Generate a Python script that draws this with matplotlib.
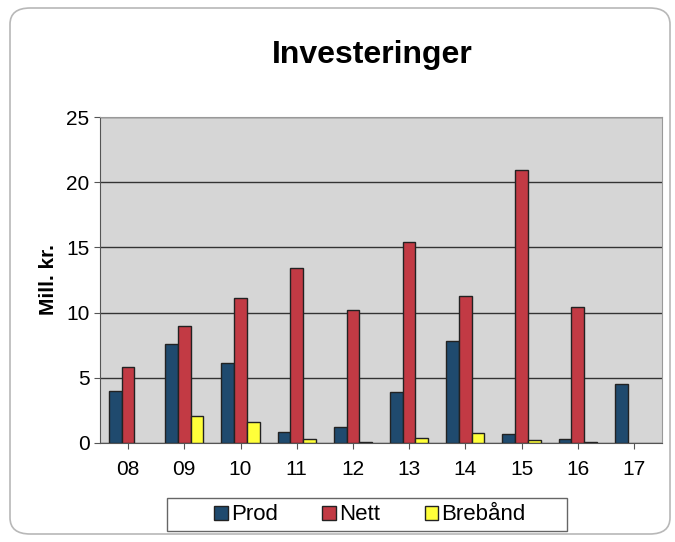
import numpy as np
import matplotlib.pyplot as plt
from matplotlib.patches import FancyBboxPatch, Rectangle

years = ["08", "09", "10", "11", "12", "13", "14", "15", "16", "17"]
prod = [4.0, 7.6, 6.1, 0.85, 1.2, 3.9, 7.85, 0.7, 0.3, 4.5]
nett = [5.8, 9.0, 11.1, 13.4, 10.2, 15.4, 11.3, 20.9, 10.4, 0]
brebaand = [0, 2.05, 1.6, 0.3, 0.05, 0.35, 0.75, 0.25, 0.08, 0]

plt.rcParams['font.family'] = ['Liberation Sans', 'DejaVu Sans']


def nz(v):
    # hide empty bars (Excel draws nothing for zero)
    v = np.array(v, dtype=float)
    v[v == 0] = np.nan
    return v


fig = plt.figure(figsize=(6.75, 5.42), dpi=100)
fig.patch.set_facecolor('white')

# rounded chart border
border = FancyBboxPatch((10 / 675, 8 / 542), 660 / 675, 526 / 542,
                        boxstyle="round,pad=0,rounding_size=0.03",
                        transform=fig.transFigure, fill=False,
                        edgecolor='#b8b8b8', linewidth=1.2)
fig.patches.append(border)

# legend box
fig.patches.append(Rectangle((167 / 675, 1 - 531 / 542), 400 / 675, 33 / 542,
                             transform=fig.transFigure, fill=False,
                             edgecolor='#666666', linewidth=1.0))

ax = fig.add_axes([100 / 675, 1 - 443 / 542, 562 / 675, 326 / 542])
ax.set_facecolor('#d6d6d6')

x = np.arange(len(years))
w = 0.226
kw = dict(edgecolor='#222222', linewidth=1.0, zorder=3)
ax.bar(x - w, nz(prod), w, color='#1f4a6e', label='Prod', **kw)
ax.bar(x, nz(nett), w, color='#c23a44', label='Nett', **kw)
ax.bar(x + w, nz(brebaand), w, color='#ffff3a', label='Brebånd', **kw)

ax.set_xlim(-0.5, len(years) - 0.5)
ax.set_ylim(0, 25)
ax.set_yticks(range(0, 26, 5))
ax.set_xticks(x)
ax.set_xticklabels(years)
ax.yaxis.grid(True, color='#333333', linewidth=1.0, zorder=1)
ax.set_axisbelow(True)
ax.tick_params(axis='both', labelsize=15, length=4, color='#555555')
ax.tick_params(axis='x', pad=8)
for side in ['top', 'right']:
    ax.spines[side].set_color('#999999')
ax.spines['left'].set_color('#555555')
ax.spines['bottom'].set_color('#555555')

ax.set_ylabel('Mill. kr.', fontsize=15, fontweight='bold', labelpad=6)
fig.text(372 / 675, 1 - 55 / 542, 'Investeringer', fontsize=23,
         fontweight='bold', ha='center', va='center')

leg = fig.legend(loc='center', bbox_to_anchor=(370 / 675, 1 - 515 / 542),
                 ncol=3, fontsize=16, frameon=False,
                 handlelength=0.6, handleheight=0.6,
                 handletextpad=0.15, columnspacing=2.0, borderpad=0.1)

fig.savefig('out.png', dpi=100)
